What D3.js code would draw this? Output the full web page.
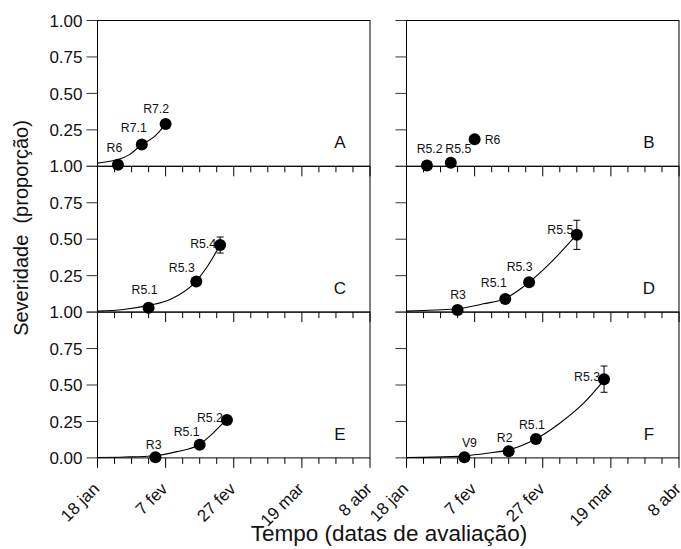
<!DOCTYPE html>
<html>
<head>
<meta charset="utf-8">
<script src="https://cdn.jsdelivr.net/npm/d3@7"></script>
<style>
  body { margin: 0; background: #fff; }
  text { font-family: "Liberation Sans", Arial, sans-serif; fill: #111; }
</style>
</head>
<body>
<svg id="chart" width="681" height="549"></svg>
<script>
// ---- Axis definitions ----
const dateStart = "2005-01-18";
const dateEnd = "2005-04-08";
const majorTickLabels = ["18 jan", "7 fev", "27 fev", "19 mar", "8 abr"];
const yTickValues = [0, 0.25, 0.5, 0.75, 1];
const yTickLabels = ["0.00", "0.25", "0.50", "0.75", "1.00"];
const panelLetters = ["A", "B", "C", "D", "E", "F"];

// ---- Observed severity (mean proportion) and growth stage per panel ----
const datesA = ["2005-01-24", "2005-01-31", "2005-02-07"];
const sevA   = [0.01, 0.15, 0.29];
const errA   = [0, 0, 0];
const stageA = ["R6", "R7.1", "R7.2"];

const datesB = ["2005-01-24", "2005-01-31", "2005-02-07"];
const sevB   = [0.005, 0.025, 0.185];
const errB   = [0, 0, 0];
const stageB = ["R5.2", "R5.5", "R6"];

const datesC = ["2005-02-02", "2005-02-16", "2005-02-23"];
const sevC   = [0.03, 0.21, 0.46];
const errC   = [0, 0, 0.055];
const stageC = ["R5.1", "R5.3", "R5.4"];

const datesD = ["2005-02-02", "2005-02-16", "2005-02-23", "2005-03-09"];
const sevD   = [0.014, 0.09, 0.205, 0.53];
const errD   = [0, 0, 0, 0.1];
const stageD = ["R3", "R5.1", "R5.3", "R5.5"];

const datesE = ["2005-02-04", "2005-02-17", "2005-02-25"];
const sevE   = [0.005, 0.09, 0.26];
const errE   = [0, 0, 0];
const stageE = ["R3", "R5.1", "R5.2"];

const datesF = ["2005-02-04", "2005-02-17", "2005-02-25", "2005-03-17"];
const sevF   = [0.004, 0.046, 0.13, 0.54];
const errF   = [0, 0, 0, 0.09];
const stageF = ["V9", "R2", "R5.1", "R5.3"];

// ---- Fitted progress curves (days after 18 jan, severity) ----
const fitDayA = [0, 4, 6, 9.5, 13, 16.5, 20];
const fitSevA = [0.022, 0.036, 0.046, 0.082, 0.149, 0.2, 0.288];
const fitDayB = [];
const fitSevB = [];
const fitDayC = [0, 7.6, 15, 21.3, 28.8, 32, 36];
const fitSevC = [0.007, 0.018, 0.046, 0.087, 0.208, 0.304, 0.46];
const fitDayD = [0, 8.3, 15, 22.6, 29, 36, 43.2, 50];
const fitSevD = [0.007, 0.014, 0.023, 0.057, 0.094, 0.205, 0.36, 0.533];
const fitDayE = [0, 8, 16.9, 23.3, 29.8, 34, 37.7];
const fitSevE = [0.003, 0.006, 0.015, 0.043, 0.09, 0.171, 0.26];
const fitDayF = [0, 8, 17, 23.6, 30, 37.8, 45, 52, 58];
const fitSevF = [0.003, 0.005, 0.014, 0.032, 0.055, 0.128, 0.238, 0.375, 0.534];

// ---- Label placement for stage annotations: [dx, dy, anchor] ----
const labelPlacement = {
  A: [[-3.5, -13, "middle"], [-8, -12.5, "middle"], [-9.5, -11, "middle"]],
  B: [[2.7, -12.5, "middle"], [7.5, -9.5, "middle"], [10, 5, "start"]],
  C: [[-4, -14, "middle"], [-14.5, -9, "middle"], [-4, 2.5, "end"]],
  D: [[0.5, -11, "middle"], [-11.5, -12, "middle"], [-9.5, -11.7, "middle"], [-3.5, -1, "end"]],
  E: [[-1.7, -8, "middle"], [-13, -8.3, "middle"], [-4, 2.3, "end"]],
  F: [[5, -10, "middle"], [-4, -9, "middle"], [-4, -10, "middle"], [-4, 1.7, "end"]]
};

const observed = {
  A: { dates: datesA, sev: sevA, err: errA, stage: stageA, fitDay: fitDayA, fitSev: fitSevA },
  B: { dates: datesB, sev: sevB, err: errB, stage: stageB, fitDay: fitDayB, fitSev: fitSevB },
  C: { dates: datesC, sev: sevC, err: errC, stage: stageC, fitDay: fitDayC, fitSev: fitSevC },
  D: { dates: datesD, sev: sevD, err: errD, stage: stageD, fitDay: fitDayD, fitSev: fitSevD },
  E: { dates: datesE, sev: sevE, err: errE, stage: stageE, fitDay: fitDayE, fitSev: fitSevE },
  F: { dates: datesF, sev: sevF, err: errF, stage: stageF, fitDay: fitDayF, fitSev: fitSevF }
};

// ---- Layout ----
const parseDate = d3.utcParse("%Y-%m-%d");
const t0 = parseDate(dateStart), t1 = parseDate(dateEnd);
const colX = [97.5, 406.5];
const panelW = 272.5;
const rowTop = 20.5;
const panelH = 145.8;

const svg = d3.select("#chart");
const majorTicks = d3.utcDay.range(t0, d3.utcDay.offset(t1, 1), 20);
const minorTicks = d3.utcDay.range(t0, d3.utcDay.offset(t1, 1), 5);

const gFrames = svg.append("g");
const gMarks = svg.append("g");

panelLetters.forEach((letter, i) => {
  const col = i % 2, row = Math.floor(i / 2);
  const x0 = colX[col], y0 = rowTop + row * panelH;
  const x = d3.scaleUtc().domain([t0, t1]).range([x0, x0 + panelW]);
  const y = d3.scaleLinear().domain([0, 1]).range([y0 + panelH, y0]);
  const d = observed[letter];

  // Frame
  gFrames.append("rect")
    .attr("x", x0).attr("y", y0).attr("width", panelW).attr("height", panelH)
    .attr("fill", "none").attr("stroke", "#000").attr("stroke-width", 1);

  // Y ticks
  gFrames.append("g").selectAll("line").data(yTickValues).join("line")
    .attr("x1", x0 - 11).attr("x2", x0)
    .attr("y1", v => y(v)).attr("y2", v => y(v))
    .attr("stroke", "#333").attr("stroke-width", 1);

  // Y tick labels (left column)
  if (col === 0) {
    const showVals = yTickValues.map((v, k) => ({ v, label: yTickLabels[k] }))
      .filter(o => !(o.v === 0 && row < 2));
    gFrames.append("g").selectAll("text").data(showVals).join("text")
      .attr("x", x0 - 15).attr("y", o => y(o.v)).attr("dy", "0.36em")
      .attr("text-anchor", "end").style("font-size", "17px")
      .text(o => o.label);
  }

  // X ticks (minor + major)
  const yb = y0 + panelH;
  gFrames.append("g").selectAll("line").data(minorTicks).join("line")
    .attr("x1", t => x(t)).attr("x2", t => x(t))
    .attr("y1", yb).attr("y2", t => majorTicks.some(m => +m === +t) ? yb + 10 : yb + 6)
    .attr("stroke", "#000").attr("stroke-width", 1);

  // X tick labels (bottom row)
  if (row === 2) {
    gFrames.append("g").selectAll("text").data(majorTicks).join("text")
      .attr("transform", t => `translate(${x(t) + 3},${yb + 32}) rotate(-45)`)
      .attr("text-anchor", "end").style("font-size", "17px")
      .text((t, k) => majorTickLabels[k]);
  }

  // Panel letter
  gFrames.append("text")
    .attr("x", x0 + panelW - 30).attr("y", yb - 18)
    .attr("text-anchor", "middle").style("font-size", "17px")
    .text(letter);

  // Fitted curve
  if (d.fitDay.length) {
    const fitPts = d.fitDay.map((dd, k) => [new Date(+t0 + dd * 864e5), d.fitSev[k]]);
    gMarks.append("path")
      .datum(fitPts)
      .attr("fill", "none").attr("stroke", "#000").attr("stroke-width", 1.1)
      .attr("d", d3.line().x(p => x(p[0])).y(p => y(p[1])).curve(d3.curveMonotoneX));
  }

  const pts = d.dates.map((s, k) => ({
    t: parseDate(s), v: d.sev[k], e: d.err[k], stage: d.stage[k], place: labelPlacement[letter][k]
  }));

  // Stage labels
  gMarks.append("g").selectAll("text").data(pts).join("text")
    .attr("x", p => x(p.t) + p.place[0]).attr("y", p => y(p.v) + p.place[1])
    .attr("text-anchor", p => p.place[2]).style("font-size", "12.3px")
    .text(p => p.stage);

  // Error bars
  const eb = gMarks.append("g").selectAll("g").data(pts.filter(p => p.e > 0)).join("g")
    .attr("stroke", "#000").attr("stroke-width", 1);
  eb.append("line").attr("x1", p => x(p.t)).attr("x2", p => x(p.t))
    .attr("y1", p => y(p.v - p.e)).attr("y2", p => y(p.v + p.e));
  eb.append("line").attr("x1", p => x(p.t) - 3.5).attr("x2", p => x(p.t) + 3.5)
    .attr("y1", p => y(p.v - p.e)).attr("y2", p => y(p.v - p.e));
  eb.append("line").attr("x1", p => x(p.t) - 3.5).attr("x2", p => x(p.t) + 3.5)
    .attr("y1", p => y(p.v + p.e)).attr("y2", p => y(p.v + p.e));

  // Points
  gMarks.append("g").selectAll("circle").data(pts).join("circle")
    .attr("cx", p => x(p.t)).attr("cy", p => y(p.v)).attr("r", 6)
    .attr("fill", "#000");
});

// Axis titles
svg.append("text")
  .attr("x", 389).attr("y", 541)
  .attr("text-anchor", "middle").style("font-size", "22.5px")
  .text("Tempo (datas de avaliação)");

svg.append("text")
  .attr("transform", "translate(28,228) rotate(-90)")
  .attr("text-anchor", "middle").style("font-size", "20px")
  .attr("xml:space", "preserve").style("white-space", "pre")
  .text("Severidade  (proporção)");
</script>
</body>
</html>
